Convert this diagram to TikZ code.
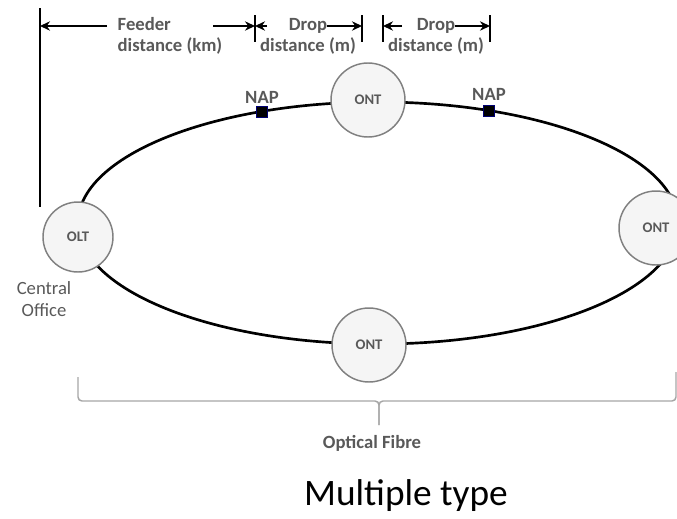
\documentclass[tikz,border=0pt]{standalone}
\usepackage{fontspec}
\setmainfont{Carlito}
\usetikzlibrary{arrows.meta, positioning}
\definecolor{txt}{HTML}{595959}
\definecolor{rim}{HTML}{808080}
\definecolor{brc}{HTML}{A6A6A6}

\begin{document}
\begin{tikzpicture} [x = 0.75pt, y = -0.75pt,
  dev/.style = {draw = rim, fill = gray!8, line width = 1.1pt, circle, inner sep = 0pt, minimum size = 55.5pt, text = txt, font = \bfseries\fontsize{11}{13}\selectfont},
  lbl/.style = {text = txt, inner sep = 0pt, align = center, font = \bfseries\fontsize{14}{15.75}\selectfont},
  nap/.style = {draw = blue!45!black, fill = black, line width = 0.6pt, minimum size = 8pt, inner sep = 0pt},
  dim/.style = {line width = 1.1pt, -{Stealth[length = 7.5pt, width = 7pt]}},
  tck/.style = {line width = 1.1pt}]
\useasboundingbox (0,0) rectangle (677,518);
% ring
\draw[line width = 2pt] (378,223) ellipse [x radius = 225pt, y radius = 90.75pt];
\node[dev] (olt) at (78,237) [minimum size = 52.5pt] {OLT};
\node[dev] (ont1) at (368,100) {ONT};
\node[dev] (ont2) at (656,228) {ONT};
\node[dev] (ont3) at (369,345) {ONT};
\node[nap] (nap1) at (262,112) {};
\node[nap] (nap2) at (489,111) {};
\node[lbl] (nl1) at (262,97) {NAP};
\node[lbl] (nl2) at (489,94) {NAP};
\node[lbl, font = \fontsize{14}{16.5}\selectfont] (co) at (44,299) {Central\\Office};
% distances
\node[lbl, align = left] (fdr) at (170,36) {Feeder\\distance (km)};
\node[lbl] (drp1) at (308,36) {Drop\\distance (m)};
\node[lbl] (drp2) at (436,36) {Drop\\distance (m)};
\coordinate (f0) at (40,8);
\coordinate (f1) at (40,207);
\coordinate (fa) at (40,26);
\coordinate (fb) at (107,26);
\coordinate (fc) at (213,26);
\coordinate (t1) at (255,15);
\coordinate (t1b) at (255,42);
\coordinate (t1c) at (255,26);
\coordinate (d1a) at (267,26);
\coordinate (d1b) at (327,26);
\coordinate (t2) at (362,15);
\coordinate (t2b) at (362,42);
\coordinate (t2c) at (362,26);
\coordinate (t3) at (383,15);
\coordinate (t3b) at (383,42);
\coordinate (t3c) at (383,26);
\coordinate (d2a) at (402,26);
\coordinate (d2b) at (455,26);
\coordinate (t4) at (490,15);
\coordinate (t4b) at (490,42);
\coordinate (t4c) at (490,26);
\draw[tck] (f0) -- (f1);
\draw[dim] (fb) -- (fa);
\draw[dim] (fc) -- (t1c);
\draw[tck] (t1) -- (t1b);
\draw[dim] (d1a) -- (t1c);
\draw[dim] (d1b) -- (t2c);
\draw[tck] (t2) -- (t2b);
\draw[tck] (t3) -- (t3b);
\draw[dim] (d2a) -- (t3c);
\draw[dim] (d2b) -- (t4c);
\draw[tck] (t4) -- (t4b);
% brace
\coordinate (b0) at (78,377);
\coordinate (b1) at (379,425);
\coordinate (b2) at (676,372);
\draw[brc, line width = 1.1pt, rounded corners = 3pt] (b0) -- (78,401) -- (379,401) -- (b1);
\draw[brc, line width = 1.1pt, rounded corners = 3pt] (b1) -- (379,401) -- (676,401) -- (b2);
\node[lbl] (of) at (372,443) {Optical Fibre};
\node[inner sep = 0pt, anchor = base, font = \fontsize{28}{32}\selectfont] (mt) at (406,505) {Multiple type};
\end{tikzpicture}
\end{document}
